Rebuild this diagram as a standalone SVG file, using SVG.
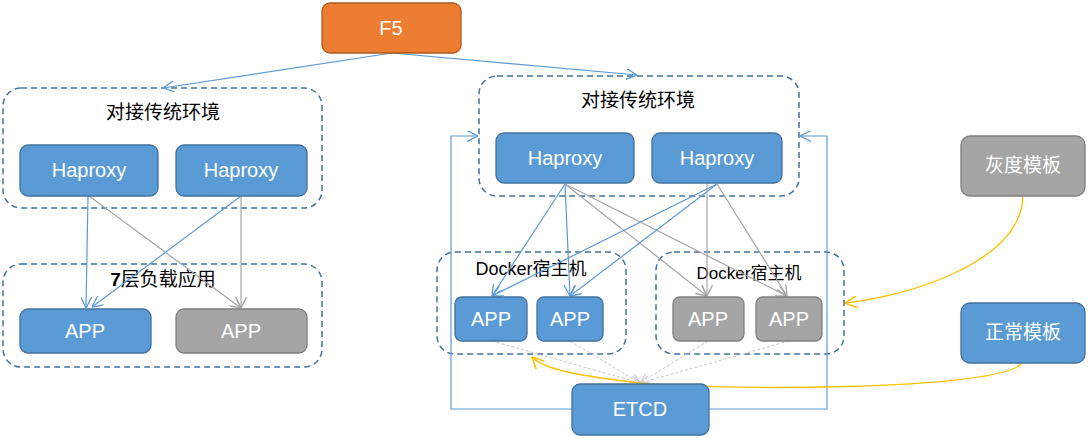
<svg xmlns="http://www.w3.org/2000/svg" width="1088" height="438" viewBox="0 0 1088 438">
<defs>
<style>
.blue{fill:#5B9BD5;stroke:#41719C;stroke-width:1.3}
.gray{fill:#A5A5A5;stroke:#7F7F7F;stroke-width:1.3}
.orange{fill:#ED7D31;stroke:#AE5A21;stroke-width:1.3}
.cont{fill:none;stroke:#41719C;stroke-width:1.5;stroke-dasharray:6,4}
.t{font-family:"Liberation Sans","Noto Sans CJK SC",sans-serif;font-size:20px;fill:#fff;text-anchor:middle}
.cj{font-family:"Liberation Sans","Noto Sans CJK SC",sans-serif;font-size:19px;fill:#000;text-anchor:middle}
.lb{fill:none;stroke:#5B9BD5;stroke-width:1.2}
.lg{fill:none;stroke:#A5A5A5;stroke-width:1.2}
.ld{fill:none;stroke:#C9C9C9;stroke-width:1;stroke-dasharray:3,2}
.ly{fill:none;stroke:#FFC000;stroke-width:1.3}
</style>
<marker id="ab" viewBox="0 0 10 10" refX="10" refY="5" markerWidth="11" markerHeight="11" markerUnits="userSpaceOnUse" orient="auto"><path d="M0,0 L10,5 L0,10" fill="none" stroke="#5B9BD5" stroke-width="1.2"/></marker>
<marker id="ag" viewBox="0 0 10 10" refX="10" refY="5" markerWidth="11" markerHeight="11" markerUnits="userSpaceOnUse" orient="auto"><path d="M0,0 L10,5 L0,10" fill="none" stroke="#A5A5A5" stroke-width="1.2"/></marker>
<marker id="ad" viewBox="0 0 10 10" refX="10" refY="5" markerWidth="10" markerHeight="10" markerUnits="userSpaceOnUse" orient="auto"><path d="M0,0 L10,5 L0,10" fill="none" stroke="#C9C9C9" stroke-width="1"/></marker>
<marker id="ay" viewBox="0 0 10 10" refX="10" refY="5" markerWidth="12" markerHeight="12" markerUnits="userSpaceOnUse" orient="auto"><path d="M0,0 L10,5 L0,10" fill="none" stroke="#FFC000" stroke-width="1.3"/></marker>
</defs>
<rect width="1088" height="438" fill="#fff"/>

<g id="containers">
<g id="left-env"><rect class="cont" x="3" y="88" width="319" height="120" rx="18"/><text class="cj" x="163" y="119">对接传统环境</text></g>
<g id="left-l7"><rect class="cont" x="3" y="264" width="319" height="103" rx="18"/><text class="cj" x="163" y="286"><tspan font-weight="bold">7</tspan>层负载应用</text></g>
<g id="right-env"><rect class="cont" x="479" y="76" width="320" height="120" rx="18"/><text class="cj" x="638" y="107">对接传统环境</text></g>
<g id="docker1"><rect class="cont" x="437" y="252" width="189" height="102" rx="18"/><text class="cj" x="531" y="275" style="font-size:18px">Docker宿主机</text></g>
<g id="docker2"><rect class="cont" x="656" y="252" width="188" height="102" rx="18"/><text class="cj" x="749" y="279" style="font-size:17px">Docker宿主机</text></g>
</g>

<g id="connectors">
<path class="lb" d="M392,53 L163,88" marker-end="url(#ab)"/>
<path class="lb" d="M392,53 L637,75" marker-end="url(#ab)"/>
<path class="lb" d="M88,196 L86,308" marker-end="url(#ab)"/>
<path class="lg" d="M89,196 L241,308" marker-end="url(#ag)"/>
<path class="lb" d="M241,196 L92,307" marker-end="url(#ab)"/>
<path class="lg" d="M241,196 L241,308" marker-end="url(#ag)"/>
<path class="lb" d="M565,184 L492,296" marker-end="url(#ab)"/>
<path class="lb" d="M565,184 L570,296" marker-end="url(#ab)"/>
<path class="lg" d="M565,184 L707,296" marker-end="url(#ag)"/>
<path class="lg" d="M565,184 L787,296" marker-end="url(#ag)"/>
<path class="lb" d="M717,184 L492,296" marker-end="url(#ab)"/>
<path class="lb" d="M717,184 L570,296" marker-end="url(#ab)"/>
<path class="lg" d="M707,173 L707,296" marker-end="url(#ag)"/>
<path class="lg" d="M717,184 L787,296" marker-end="url(#ag)"/>
<path class="ld" d="M492,341 L640,383" marker-end="url(#ad)"/>
<path class="ld" d="M570,341 L640,383" marker-end="url(#ad)"/>
<path class="ld" d="M708,341 L640,383" marker-end="url(#ad)"/>
<path class="ld" d="M789,341 L640,383" marker-end="url(#ad)"/>
<path class="lb" d="M572,409 H451 V136 H478" marker-end="url(#ab)"/>
<path class="lb" d="M709,409 H827 V136 H800" marker-end="url(#ab)"/>
<path class="ly" d="M1023,197 C1020,262 910,296 845,303" marker-end="url(#ay)"/>
<path class="ly" d="M1022,363 C1000,392 700,390 640,383 S545,370 532,357" marker-end="url(#ay)"/>
</g>

<g id="f5"><rect class="orange" x="322" y="3" width="139" height="50" rx="8"/><text class="t" x="391" y="35">F5</text></g>
<g id="haproxy1"><rect class="blue" x="20" y="145" width="138" height="51" rx="8"/><text class="t" x="89" y="177">Haproxy</text></g>
<g id="haproxy2"><rect class="blue" x="176" y="145" width="131" height="51" rx="8"/><text class="t" x="241" y="177">Haproxy</text></g>
<g id="app1"><rect class="blue" x="20" y="309" width="131" height="44" rx="8"/><text class="t" x="85" y="338">APP</text></g>
<g id="app2"><rect class="gray" x="176" y="309" width="131" height="44" rx="8"/><text class="t" x="241" y="338">APP</text></g>
<g id="haproxy3"><rect class="blue" x="496" y="133" width="138" height="50" rx="8"/><text class="t" x="565" y="165">Haproxy</text></g>
<g id="haproxy4"><rect class="blue" x="652" y="133" width="130" height="50" rx="8"/><text class="t" x="717" y="165">Haproxy</text></g>
<g id="app3"><rect class="blue" x="455" y="297" width="72" height="44" rx="7"/><text class="t" x="491" y="326">APP</text></g>
<g id="app4"><rect class="blue" x="537" y="297" width="66" height="44" rx="7"/><text class="t" x="570" y="326">APP</text></g>
<g id="app5"><rect class="gray" x="673" y="297" width="71" height="44" rx="7"/><text class="t" x="708" y="326">APP</text></g>
<g id="app6"><rect class="gray" x="756" y="297" width="66" height="44" rx="7"/><text class="t" x="789" y="326">APP</text></g>
<g id="etcd"><rect class="blue" x="572" y="384" width="137" height="51" rx="8"/><text class="t" x="640" y="416">ETCD</text></g>
<g id="gray-tpl"><rect class="gray" x="961" y="136" width="124" height="60" rx="9"/><text class="t" x="1023" y="172" style="font-size:19px">灰度模板</text></g>
<g id="normal-tpl"><rect class="blue" x="961" y="303" width="124" height="60" rx="9"/><text class="t" x="1023" y="339" style="font-size:19px">正常模板</text></g>
</svg>
